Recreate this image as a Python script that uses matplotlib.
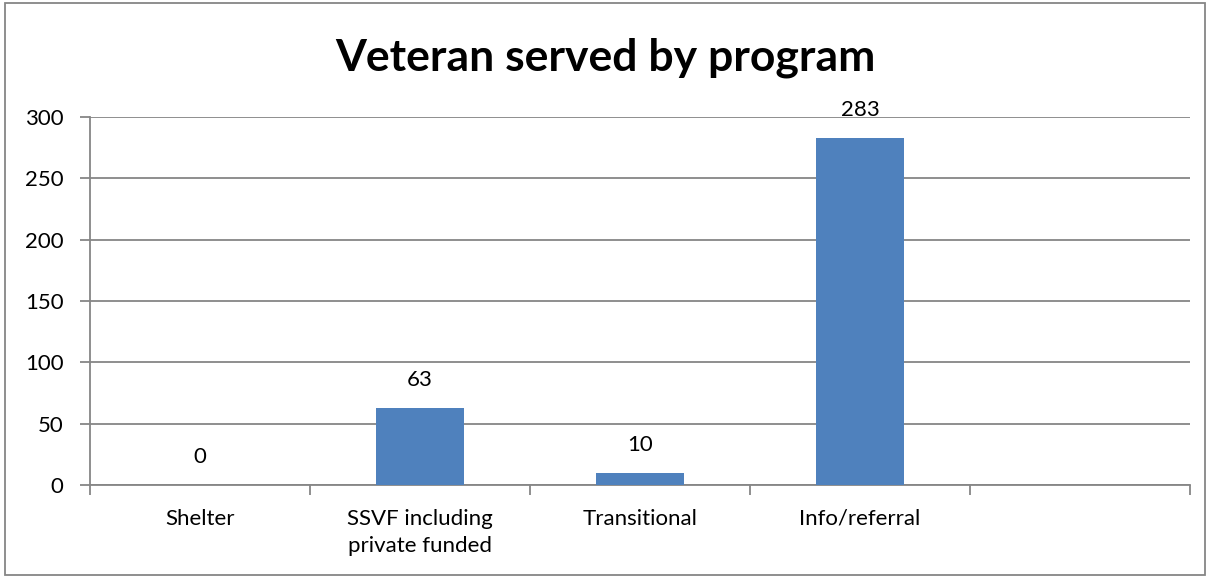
import numpy as np
import matplotlib.pyplot as plt
from matplotlib.patches import Rectangle

plt.rcParams['font.family'] = ['Lato', 'DejaVu Sans']

categories = ["Shelter", "SSVF including\nprivate funded", "Transitional", "Info/referral", ""]
values = [0, 63, 10, 283]
yticks = [0, 50, 100, 150, 200, 250, 300]

grid_color = "#868686"
bar_color = "#4F81BD"

fig = plt.figure(figsize=(12.11, 5.78), dpi=100)
ax = fig.add_axes([90 / 1211, 1 - 485 / 578, 1100 / 1211, 368 / 578])

x = np.arange(len(values))
bars = ax.bar(x, values, width=0.4, color=bar_color, zorder=3)

for xi, v in zip(x, values):
    ax.annotate(str(v), (xi, v), xytext=(0, 13), textcoords="offset points",
                ha="center", va="bottom", fontsize=16)

ax.set_xlim(-0.5, len(categories) - 0.5)
ax.set_ylim(0, 300)
ax.set_yticks(yticks)
ax.yaxis.grid(True, color=grid_color, linewidth=1.3, zorder=0)
ax.set_axisbelow(True)

ax.set_xticks(np.arange(len(categories) + 1) - 0.5)
ax.set_xticklabels([])
ax.set_xticks(np.arange(len(categories)), minor=True)
ax.set_xticklabels(categories, minor=True, fontsize=16, va="top", linespacing=1.45)
ax.tick_params(axis="x", which="minor", length=0, pad=17)
ax.tick_params(axis="x", which="major", length=7, color=grid_color, width=1.3)
ax.tick_params(axis="y", length=7, color=grid_color, width=1.3, labelsize=16, pad=12)

for s in ["top", "right"]:
    ax.spines[s].set_visible(False)
for s in ["left", "bottom"]:
    ax.spines[s].set_color(grid_color)
    ax.spines[s].set_linewidth(1.3)

fig.text(0.5, 1 - 58 / 578, "Veteran served by program", ha="center", va="center",
         fontsize=32, fontweight="bold")

fig.patches.append(Rectangle((5 / 1211, 3 / 578), 1200 / 1211, 572 / 578,
                             transform=fig.transFigure, fill=False,
                             edgecolor=grid_color, linewidth=1.3))

fig.savefig("out.png", dpi=100)
